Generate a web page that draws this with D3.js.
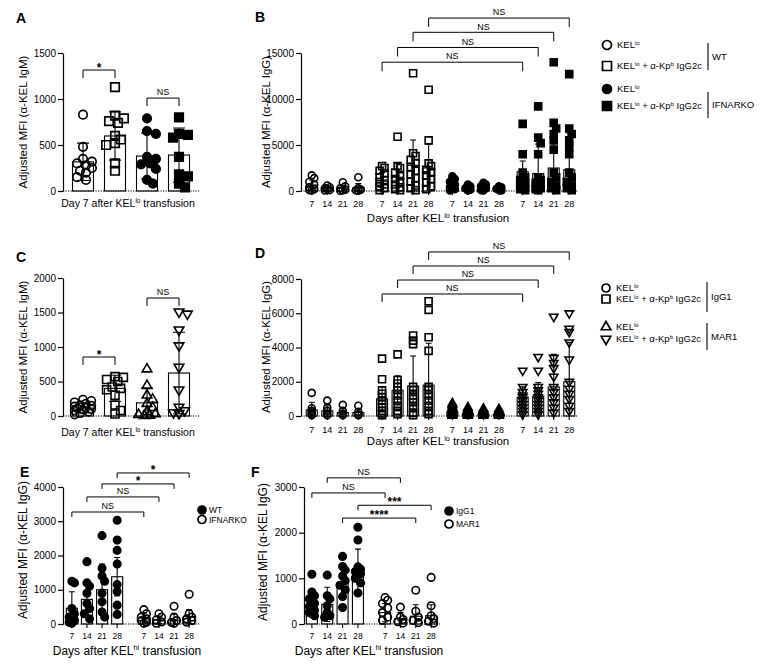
<!DOCTYPE html>
<html>
<head>
<meta charset="utf-8">
<script src="https://cdn.jsdelivr.net/npm/d3@7"></script>
<style>
body { margin: 0; background: #fff; }
svg { font-family: "Liberation Sans", Arial, sans-serif; }
</style>
</head>
<body>
<svg id="fig" width="764" height="666"></svg>
<script>
const FONT = "Liberation Sans, Arial, sans-serif";
const days = ["7", "14", "21", "28"];

// ---- panel A: IgM day 7, WT vs IFNARKO
const aMeans = [317, 598, 380, 391];
const aSD = [203, 262, 250, 294];
const aPoints = [
    [830, 480, 350, 320, 300, 280, 250, 220, 200, 150, 120],
    [1130, 820, 790, 760, 740, 600, 560, 520, 500, 300, 220],
    [790, 650, 620, 370, 350, 300, 290, 240, 120, 80],
    [800, 620, 610, 580, 370, 180, 160, 80, 40]
];

// ---- panel B: IgG over time (WT KELlo, WT +Ab, IFNARKO KELlo, IFNARKO +Ab) x days
const bMeans = [650, 250, 300, 350, 1200, 1500, 2800, 2500, 600, 300, 350, 250, 2100, 1900, 2500, 2300];
const bSD = [550, 200, 300, 450, 800, 1500, 2750, 2600, 550, 250, 300, 200, 1160, 3200, 4000, 4000];
const bPoints = [
    [1700, 1400, 1000, 700, 400, 200, 100, 50],
    [600, 400, 300, 200, 100, 50],
    [950, 500, 300, 150, 80, 40],
    [1500, 300, 150, 80, 40],
    [2700, 2500, 2200, 1900, 1500, 1200, 1000, 700, 500, 300, 100],
    [5900, 2700, 2500, 2000, 1600, 1300, 1000, 700, 400, 200, 100],
    [12800, 4100, 3800, 3400, 3000, 2600, 2200, 1800, 1400, 1000, 600, 300, 100],
    [11000, 5500, 3000, 2700, 2300, 2000, 1700, 1300, 900, 500, 200],
    [1600, 1300, 1000, 700, 400, 200, 50],
    [700, 500, 300, 150, 50],
    [900, 700, 500, 300, 100, 50],
    [500, 400, 250, 100, 50],
    [7300, 4000, 2000, 1500, 1200, 900, 600, 400, 200, 100],
    [9200, 5800, 5200, 4000, 1500, 1200, 900, 700, 500, 300, 200, 100],
    [14000, 7400, 6800, 6200, 5500, 4500, 2000, 1500, 1000, 600, 300, 100],
    [12700, 6800, 6200, 5500, 4800, 4000, 2000, 1500, 1000, 600, 300, 100]
];

// ---- panel C: IgM day 7, IgG1 vs MAR1
const cMeans = [115, 400, 190, 623];
const cSD = [70, 190, 214, 590];
const cPoints = [
    [240, 220, 200, 180, 160, 150, 140, 120, 110, 100, 90, 80, 60, 40, 20],
    [570, 560, 530, 500, 420, 400, 380, 300, 160, 80, 30],
    [680, 440, 300, 240, 180, 120, 60, 30, 20, 10, 5],
    [1510, 1480, 1250, 1020, 710, 380, 130, 80, 50, 40]
];

// ---- panel D: IgG over time, IgG1 vs MAR1
const dMeans = [350, 300, 200, 200, 1000, 1500, 1750, 1800, 250, 150, 100, 100, 1100, 1150, 1700, 2000];
const dSD = [450, 300, 250, 200, 700, 850, 1750, 2450, 200, 150, 100, 100, 600, 800, 1900, 2300];
const dPoints = [
    [1350, 450, 300, 200, 100, 50],
    [900, 500, 300, 150, 50],
    [650, 300, 150, 50],
    [600, 250, 100, 50],
    [3350, 2150, 1500, 1300, 1100, 900, 700, 500, 300, 150, 50],
    [3600, 2100, 1900, 1700, 1500, 1200, 900, 600, 300, 100],
    [4700, 4400, 4200, 1700, 1500, 1200, 1000, 800, 500, 200, 50],
    [6700, 6200, 4600, 3800, 1700, 1500, 1200, 900, 600, 300, 100],
    [750, 650, 550, 480, 400, 340, 280, 220, 160, 110, 70, 40, 20],
    [500, 420, 350, 280, 220, 160, 110, 70, 40, 20],
    [420, 360, 300, 240, 180, 130, 90, 50, 20],
    [400, 340, 280, 220, 160, 110, 70, 40, 20],
    [2650, 1700, 1400, 1200, 1100, 900, 700, 500, 300, 100],
    [3450, 2650, 1700, 1500, 1300, 1100, 900, 700, 500, 300, 100],
    [5800, 3400, 3100, 2800, 2300, 1700, 1400, 1100, 800, 500, 200],
    [6000, 5100, 4900, 4300, 3300, 2000, 1600, 1300, 1000, 600, 300]
];

// ---- panel E: KELhi, WT vs IFNARKO
const eMeans = [460, 720, 1000, 1380, 170, 120, 110, 220];
const eSD = [480, 500, 750, 560, 150, 110, 180, 200];
const ePoints = [
    [1250, 1200, 450, 300, 200, 100, 50, 20],
    [1820, 1200, 1100, 900, 600, 450, 300, 150],
    [2580, 1630, 1400, 1250, 900, 650, 350, 200],
    [3030, 2450, 2150, 1750, 1150, 950, 550, 280],
    [420, 300, 200, 150, 100, 50, 20],
    [300, 200, 120, 60, 20],
    [520, 200, 100, 50, 20],
    [870, 300, 200, 150, 100, 50]
];

// ---- panel F: KELhi, IgG1 vs MAR1
const fMeans = [450, 430, 900, 1170, 250, 120, 170, 180];
const fSD = [300, 375, 350, 470, 200, 130, 250, 240];
const fPoints = [
    [1090, 700, 620, 550, 450, 380, 300, 250, 180],
    [1070, 620, 550, 400, 250, 180, 150],
    [1480, 1260, 1180, 1050, 950, 850, 750, 600, 360],
    [2120, 1840, 1250, 1200, 1150, 1100, 1000, 900, 680],
    [580, 520, 450, 350, 250, 150, 80],
    [370, 150, 100, 50, 20],
    [740, 280, 150, 80, 30],
    [1020, 400, 180, 120, 60, 20]
];

// text bits
const kelLo = [["KEL"], ["lo", 1]];
const kelLoAb = [["KEL"], ["lo", 1], [" + α-Kp"], ["b", 1], [" IgG2c"]];
const xTitleA = [["Day 7 after KEL"], ["lo", 1], [" transfusion"]];
const xTitleB = [["Days after KEL"], ["lo", 1], [" transfusion"]];
const xTitleE = [["Days after KEL"], ["hi", 1], [" transfusion"]];
const yIgM = [["Adjusted MFI (α-KEL IgM)"]];
const yIgG = [["Adjusted MFI (α-KEL IgG)"]];

const svg = d3.select("#fig");

function rich(t, parts, fs) {
    let up = false;
    parts.forEach(p => {
        const s = t.append("tspan").text(p[0]);
        if (p[1]) {
            s.attr("font-size", fs * 0.62).attr("dy", -fs * 0.38);
            up = true;
        } else if (up) {
            s.attr("dy", fs * 0.38);
            up = false;
        }
    });
    return t;
}

function sym(shape, d) {
    if (shape == "circle") return d3.symbol(d3.symbolCircle, Math.PI * d * d / 4)();
    if (shape == "square") return d3.symbol(d3.symbolSquare, d * d)();
    let s = d * 1.2;
    return d3.symbol(d3.symbolTriangle, Math.sqrt(3) / 4 * s * s)();
}

function marker(g, shape, filled, x, y, d, sw) {
    g.append("path")
        .attr("d", sym(shape, d))
        .attr("transform", "translate(" + x + "," + y + ")" + (shape == "triDown" ? " rotate(180)" : ""))
        .attr("fill", filled ? "#000" : "none")
        .attr("stroke", "#000")
        .attr("stroke-width", sw);
}

// spread overlapping points sideways, top value first
function swarm(vals, y, r, maxOff) {
    const step = r * 0.7;
    const placed = [];
    const off = new Array(vals.length).fill(0);
    d3.range(vals.length).sort((a, b) => vals[b] - vals[a]).forEach(i => {
        const py = y(vals[i]);
        let best = 0, bestD = -1;
        for (let k = 0; k <= 14; k++) {
            const o = (k % 2 ? 1 : -1) * Math.ceil(k / 2) * step;
            if (Math.abs(o) > maxOff) continue;
            const dmin = placed.length ? d3.min(placed, p => Math.hypot(p[0] - o, p[1] - py)) : Infinity;
            if (dmin >= 1.6 * r) { best = o; break; }
            if (dmin > bestD) { bestD = dmin; best = o; }
        }
        off[i] = best;
        placed.push([best, py]);
    });
    return off;
}

function panel(c) {
    const g = svg.append("g");
    const y = c.y;
    const y0 = y(0);

    g.append("text").attr("x", c.letter[1]).attr("y", c.letter[2])
        .attr("font-size", 14).attr("font-weight", 700).text(c.letter[0]);

    // y axis
    g.append("g").attr("transform", "translate(" + c.axisX + ",0)")
        .attr("font-size", c.tickFs).attr("font-family", FONT)
        .call(d3.axisLeft(y).tickValues(c.yTicks).tickSize(5).tickSizeOuter(0).tickPadding(2).tickFormat(d3.format("d")))
        .call(a => a.selectAll("path,line").attr("stroke-width", 1.2));

    // bars
    c.means.forEach((m, i) => {
        g.append("rect").attr("x", c.cx[i] - c.barW / 2).attr("y", y(m))
            .attr("width", c.barW).attr("height", y0 - y(m))
            .attr("fill", "#fff").attr("stroke", "#000").attr("stroke-width", 1.1);
    });

    // dotted baseline
    g.append("line").attr("x1", c.axisX).attr("x2", c.xEnd).attr("y1", y0).attr("y2", y0)
        .attr("stroke", "#000").attr("stroke-width", 1.1).attr("stroke-dasharray", "1.2,1.3");

    // x ticks + labels
    if (c.xTicks) {
        c.cx.forEach((x, i) => {
            g.append("line").attr("x1", x).attr("x2", x).attr("y1", y0).attr("y2", y0 + 4)
                .attr("stroke", "#000").attr("stroke-width", 1.1);
            g.append("text").attr("x", x).attr("y", y0 + c.xTickDy).attr("text-anchor", "middle")
                .attr("font-size", c.tickFs).text(c.xTicks[i % c.xTicks.length]);
        });
    }

    // points
    c.points.forEach((vals, i) => {
        const off = swarm(vals, y, c.mk / 2, c.spread);
        vals.forEach((v, j) => marker(g, c.shapes[i], c.filled[i], c.cx[i] + off[j], y(v), c.mk, c.mkSw));
    });

    // error bars (mean +/- SD)
    c.means.forEach((m, i) => {
        const x = c.cx[i], hi = y(m + c.sd[i]), lo = y(Math.max(0, m - c.sd[i]));
        const cw = c.capW / 2;
        g.append("path")
            .attr("d", "M" + x + "," + lo + "V" + hi + "M" + (x - cw) + "," + hi + "H" + (x + cw) +
                (m - c.sd[i] > 0 ? "M" + (x - cw) + "," + lo + "H" + (x + cw) : ""))
            .attr("fill", "none").attr("stroke", "#000").attr("stroke-width", 1.1);
    });

    // significance brackets
    c.brackets.forEach(b => {
        const x1 = c.cx[b[0]], x2 = c.cx[b[1]], yy = y(b[2]);
        g.append("path").attr("d", "M" + x1 + "," + (yy + c.drop) + "V" + yy + "H" + x2 + "V" + (yy + c.drop))
            .attr("fill", "none").attr("stroke", "#000").attr("stroke-width", 1);
        const star = b[3] != "NS";
        g.append("text").attr("x", (x1 + x2) / 2)
            .attr("y", star ? yy + c.starFs * 0.58 - c.starGap : yy - 2.8)
            .attr("text-anchor", "middle").attr("font-size", star ? c.starFs : c.nsFs)
            .attr("font-weight", star ? 700 : 400).text(b[3]);
    });

    // axis titles
    rich(g.append("text").attr("x", c.xTitle[1]).attr("y", c.xTitle[2]).attr("text-anchor", "middle")
        .attr("font-size", c.xTitleFs), c.xTitle[0], c.xTitleFs);
    rich(g.append("text").attr("transform", "translate(" + c.yTitle[1] + "," + c.yTitle[2] + ") rotate(-90)")
        .attr("text-anchor", "middle").attr("font-size", c.yTitleFs), c.yTitle[0], c.yTitleFs);
}

// positions from band scales
function simpleCenters(range) {
    const x = d3.scaleBand().domain(d3.range(4)).range(range);
    return d3.range(4).map(i => x(i) + x.bandwidth() / 2);
}
function groupedCenters(nGroups, range, pad) {
    const gx = d3.scaleBand().domain(d3.range(nGroups)).range(range).paddingInner(pad);
    const dx = d3.scaleBand().domain(days).range([0, gx.bandwidth()]);
    const out = [];
    d3.range(nGroups).forEach(gi => days.forEach(d => out.push(gx(gi) + dx(d) + dx.bandwidth() / 2)));
    return out;
}
const rep = (arr, n) => arr.flatMap(v => d3.range(n).map(() => v));

panel({
    letter: ["A", 16, 23], axisX: 63, xEnd: 200,
    y: d3.scaleLinear().domain([0, 1500]).range([191, 53]), yTicks: [0, 500, 1000, 1500], tickFs: 9,
    cx: simpleCenters([67, 195]), barW: 21, capW: 12,
    means: aMeans, sd: aSD, points: aPoints,
    shapes: ["circle", "square", "circle", "square"], filled: [0, 0, 1, 1],
    mk: 8.5, mkSw: 1.7, spread: 9,
    brackets: [[0, 1, 1315, "*"], [2, 3, 1010, "NS"]], drop: 8, starFs: 12, starGap: 5, nsFs: 9,
    xTitle: [xTitleA, 128, 207], xTitleFs: 10.5,
    yTitle: [yIgM, 27, 122], yTitleFs: 11.5
});

panel({
    letter: ["B", 255, 22], axisX: 301, xEnd: 578,
    y: d3.scaleLinear().domain([0, 15000]).range([191, 53]), yTicks: [0, 5000, 10000, 15000], tickFs: 9,
    cx: groupedCenters(4, [304, 577], 0.117), barW: 11, capW: 6,
    xTicks: days, xTickDy: 15.5,
    means: bMeans, sd: bSD, points: bPoints,
    shapes: rep(["circle", "square", "circle", "square"], 4), filled: rep([0, 0, 1, 1], 4),
    mk: 7, mkSw: 1.6, spread: 3,
    brackets: [[4, 12, 14000, "NS"], [5, 13, 15600, "NS"], [6, 14, 17250, "NS"], [7, 15, 18800, "NS"]],
    drop: 9, starFs: 12, starGap: 5, nsFs: 9,
    xTitle: [xTitleB, 438, 222], xTitleFs: 11.5,
    yTitle: [yIgG, 270, 122], yTitleFs: 11.5
});

panel({
    letter: ["C", 16, 262], axisX: 63, xEnd: 200,
    y: d3.scaleLinear().domain([0, 2000]).range([416, 278]), yTicks: [0, 500, 1000, 1500, 2000], tickFs: 9,
    cx: simpleCenters([67, 195]), barW: 21, capW: 12,
    means: cMeans, sd: cSD, points: cPoints,
    shapes: ["circle", "square", "triUp", "triDown"], filled: [0, 0, 0, 0],
    mk: 8, mkSw: 1.6, spread: 9,
    brackets: [[0, 1, 855, "*"], [2, 3, 1710, "NS"]], drop: 8, starFs: 12, starGap: 5, nsFs: 9,
    xTitle: [xTitleA, 128, 436], xTitleFs: 10.5,
    yTitle: [yIgM, 27, 347], yTitleFs: 11.5
});

panel({
    letter: ["D", 255, 258], axisX: 301, xEnd: 578,
    y: d3.scaleLinear().domain([0, 8000]).range([416, 279]), yTicks: [0, 2000, 4000, 6000, 8000], tickFs: 9,
    cx: groupedCenters(4, [304, 577], 0.117), barW: 11, capW: 6,
    xTicks: days, xTickDy: 16.5,
    means: dMeans, sd: dSD, points: dPoints,
    shapes: rep(["circle", "square", "triUp", "triDown"], 4), filled: rep([0, 0, 0, 0], 4),
    mk: 7, mkSw: 1.6, spread: 2,
    brackets: [[4, 12, 7125, "NS"], [5, 13, 7940, "NS"], [6, 14, 8760, "NS"], [7, 15, 9580, "NS"]],
    drop: 8, starFs: 12, starGap: 5, nsFs: 9,
    xTitle: [xTitleB, 438, 445], xTitleFs: 11.5,
    yTitle: [yIgG, 270, 347], yTitleFs: 11.5
});

panel({
    letter: ["E", 20, 477], axisX: 63, xEnd: 200,
    y: d3.scaleLinear().domain([0, 4000]).range([624, 487]), yTicks: [0, 1000, 2000, 3000, 4000], tickFs: 8.5,
    cx: groupedCenters(2, [64.3, 196.7], 0.161), barW: 11, capW: 6,
    xTicks: days, xTickDy: 15,
    means: eMeans, sd: eSD, points: ePoints,
    shapes: rep(["circle", "circle"], 4), filled: rep([1, 0], 4),
    mk: 7.5, mkSw: 1.6, spread: 3,
    brackets: [[0, 4, 3270, "NS"], [1, 5, 3710, "NS"], [2, 6, 4090, "*"], [3, 7, 4410, "*"]],
    drop: 5, starFs: 12, starGap: 6, nsFs: 9,
    xTitle: [xTitleE, 127, 655], xTitleFs: 12,
    yTitle: [yIgG, 27, 550], yTitleFs: 12
});

panel({
    letter: ["F", 251, 477], axisX: 304, xEnd: 440,
    y: d3.scaleLinear().domain([0, 3000]).range([624, 487]), yTicks: [0, 1000, 2000, 3000], tickFs: 8.5,
    cx: groupedCenters(2, [304.2, 438.8], 0.161), barW: 11, capW: 6,
    xTicks: days, xTickDy: 15,
    means: fMeans, sd: fSD, points: fPoints,
    shapes: rep(["circle", "circle"], 4), filled: rep([1, 0], 4),
    mk: 7.5, mkSw: 1.6, spread: 3,
    brackets: [[0, 4, 2870, "NS"], [1, 5, 3200, "NS"], [3, 7, 2600, "***"], [2, 6, 2320, "****"]],
    drop: 5, starFs: 12, starGap: 6, nsFs: 9,
    xTitle: [xTitleE, 369, 655], xTitleFs: 12,
    yTitle: [yIgG, 267, 552], yTitleFs: 12
});

// legends
function sideLegend(x, ys, labels, shapes, filled, d, groups) {
    const g = svg.append("g");
    ys.forEach((yy, i) => {
        marker(g, shapes[i], filled[i], x, yy, d, 1.7);
        rich(g.append("text").attr("x", x + 10).attr("y", yy + 3.3).attr("font-size", 9.5), labels[i], 9.5);
    });
    groups.forEach(gr => {
        g.append("line").attr("x1", gr[0]).attr("x2", gr[0]).attr("y1", gr[1]).attr("y2", gr[2])
            .attr("stroke", "#000").attr("stroke-width", 1.1);
        g.append("text").attr("x", gr[0] + 4).attr("y", (gr[1] + gr[2]) / 2 + 3.3).attr("font-size", 9.5).text(gr[3]);
    });
}

sideLegend(607, [45, 66, 89, 106], [kelLo, kelLoAb, kelLo, kelLoAb],
    ["circle", "square", "circle", "square"], [0, 0, 1, 1], 9,
    [[708, 43, 70, "WT"], [708, 92, 118, "IFNARKO"]]);

sideLegend(606, [288, 299, 327, 339], [kelLo, kelLoAb, kelLo, kelLoAb],
    ["circle", "square", "triUp", "triDown"], [0, 0, 0, 0], 8,
    [[707, 282, 312, "IgG1"], [707, 323, 350, "MAR1"]]);

function dotLegend(x, ys, labels, filled) {
    const g = svg.append("g");
    ys.forEach((yy, i) => {
        marker(g, "circle", filled[i], x, yy, 8, 1.7);
        g.append("text").attr("x", x + 7).attr("y", yy + 3).attr("font-size", 8.5).text(labels[i]);
    });
}
dotLegend(202, [510, 519.5], ["WT", "IFNARKO"], [1, 0]);
dotLegend(449, [511, 524], ["IgG1", "MAR1"], [1, 0]);
</script>
</body>
</html>
